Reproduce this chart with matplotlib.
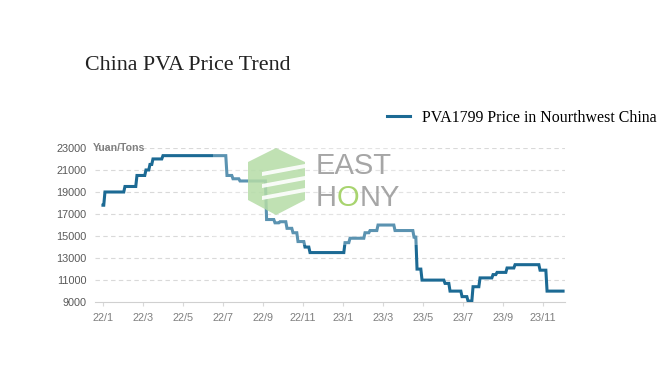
import matplotlib.pyplot as plt
import matplotlib.patches as mpatches
from matplotlib.transforms import offset_copy

# price change points, x = months since Jan 2022 (0 = 22/1)
months = [0.0, 0.1, 1.1, 1.7, 2.15, 2.35, 2.5, 3.0,
          6.2, 6.5, 6.85, 8.18, 8.6, 8.85, 9.2, 9.5, 9.75, 10.1, 10.35,
          12.1, 12.35, 13.1, 13.35, 13.75, 14.6, 15.55, 15.7, 15.95,
          17.1, 17.35, 17.95, 18.25, 18.5, 18.85, 19.5, 19.7, 20.2, 20.6,
          21.85, 22.2, 23.0]
price = [17800, 19000, 19500, 20500, 21000, 21500, 22000, 22300,
         20500, 20200, 20000, 16500, 16200, 16300, 15700, 15300, 14500, 14000, 13500,
         14400, 14800, 15300, 15500, 16000, 15500, 14900, 12000, 11000,
         10700, 10000, 9500, 9100, 10400, 11200, 11500, 11700, 12100, 12400,
         11900, 10000, 10000]

tick_months = list(range(0, 24, 2))
tick_labels = ["22/1", "22/3", "22/5", "22/7", "22/9", "22/11",
               "23/1", "23/3", "23/5", "23/7", "23/9", "23/11"]
y_ticks = [9000, 11000, 13000, 15000, 17000, 19000, 21000, 23000]

line_color = "#1c6a94"
grey = "#595959"
W, H = 664, 368


def fx(px):
    return px / W


def fy(py):
    return 1 - py / H


fig = plt.figure(figsize=(6.64, 3.68), dpi=100)
ax = fig.add_axes([0.143, 0.179, 0.708, 0.419])

# small slant between steps like the original weekly line
xs, ys = [months[0]], [price[0]]
for i in range(1, len(months)):
    xs.append(months[i] - 0.06)
    ys.append(price[i - 1])
    xs.append(months[i])
    ys.append(price[i])

ax.plot(xs, ys, color=line_color, lw=2.2, solid_joinstyle="miter",
        label="PVA1799 Price in Nourthwest China", zorder=3)

ax.set_xlim(-0.4, 23.1)
ax.set_ylim(9000, 23000)
ax.set_yticks(y_ticks)
ax.set_yticklabels([str(v) for v in y_ticks], fontsize=7.8, color=grey,
                   family="Liberation Sans")
ax.set_xticks(tick_months)
ax.set_xticklabels(tick_labels, fontsize=7.8, color="#7f7f7f",
                   family="Liberation Sans")
ax.tick_params(axis="y", length=0, pad=6)
ax.tick_params(axis="x", length=3, color="#d9d9d9", pad=5)

for v in y_ticks[1:]:
    ax.axhline(v, color="#d9d9d9", lw=0.8, ls=(0, (4, 3)), zorder=1)
for s in ["top", "right", "left"]:
    ax.spines[s].set_visible(False)
ax.spines["bottom"].set_color("#d0d0d0")

ax.text(-0.5, 23000, "Yuan/Tons", fontsize=7.6, fontweight="bold",
        color="#7f7f7f", va="center", ha="left", family="Liberation Sans")

# title and legend
fig.text(fx(85), fy(70), "China PVA Price Trend", fontsize=15.8,
         family="Liberation Serif", color="#222222", va="baseline")
ax.legend(loc="center left", bbox_to_anchor=(fx(387), fy(118)),
          bbox_transform=fig.transFigure, frameon=False,
          handlelength=1.45, handletextpad=0.75, borderpad=0,
          borderaxespad=0, prop={"family": "Liberation Serif", "size": 11.4})

# watermark: faint white box, logo and text
fig.add_artist(mpatches.Rectangle((fx(213), fy(245)), fx(420) - fx(213),
                                  fy(145) - fy(245),
                                  transform=fig.transFigure, color="white",
                                  alpha=0.28, lw=0, zorder=5))
hex_pts = [(276, 148), (305, 162), (305, 200), (276, 215), (248, 200), (248, 162)]
fig.add_artist(mpatches.Polygon([(fx(a), fy(b)) for a, b in hex_pts],
                                transform=fig.transFigure, color="#b5dca6",
                                alpha=0.85, lw=0, zorder=6))
for yy in [168, 180, 192]:
    fig.add_artist(mpatches.Polygon(
        [(fx(262), fy(yy + 4)), (fx(305), fy(yy - 4)),
         (fx(305), fy(yy)), (fx(262), fy(yy + 8))],
        transform=fig.transFigure, color="white", alpha=0.9, lw=0, zorder=7))

wm = dict(fontsize=21, family="Liberation Sans", va="center", zorder=8)
fig.text(fx(316), fy(166), "EAST", color="#a6a6a6", **wm)

# "HONY" with a green O, placed piece by piece
fig.canvas.draw()
r = fig.canvas.get_renderer()
shift = 0
for part, col in [("H", "#a6a6a6"), ("O", "#a8d46f"), ("NY", "#a6a6a6")]:
    t = fig.text(fx(316), fy(198), part, color=col,
                 transform=offset_copy(fig.transFigure, fig=fig,
                                       x=shift, y=0, units="dots"), **wm)
    shift += t.get_window_extent(r).width

fig.savefig("out.png", dpi=100)
